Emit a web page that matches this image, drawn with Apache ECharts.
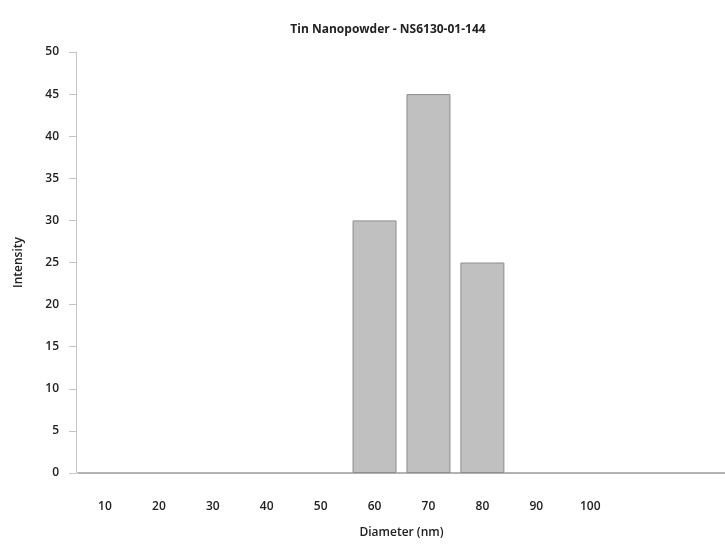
<!DOCTYPE html>
<html>
<head>
<meta charset="utf-8">
<script src="https://cdn.jsdelivr.net/npm/echarts@6/dist/echarts.min.js"></script>
<style>
  html, body { margin: 0; padding: 0; background: #fff; }
  #chart { width: 725px; height: 544px; }
</style>
</head>
<body>
<div id="chart"></div>
<script>
// diameter classes (nm); the last two bands are empty on the original axis
var diameters = ['10', '20', '30', '40', '50', '60', '70', '80', '90', '100', '', ''];
var intensity = [0, 0, 0, 0, 0, 30, 45, 25, 0, 0, 0, 0];
var yTicks = [0, 50, 5];

var myChart = echarts.init(document.getElementById('chart'));
var font = '"Open Sans", "Liberation Sans", sans-serif';

// empty classes get no outline, so no flat line is drawn on the axis
var barData = intensity.map(function (v) {
  return v === 0 ? { value: v, itemStyle: { borderWidth: 0, opacity: 0 } } : v;
});

var option = {
  backgroundColor: '#fff',
  animation: false,
  title: {
    text: 'Tin Nanopowder - NS6130-01-144',
    left: 383,
    textAlign: 'center',
    top: 19,
    textStyle: { fontFamily: font, fontSize: 12, fontWeight: 'bold', color: '#222' }
  },
  grid: { left: 78, right: 0, top: 52, bottom: 66 },
  xAxis: {
    type: 'category',
    data: diameters,
    name: 'Diameter (nm)',
    nameLocation: 'middle',
    nameGap: 54,
    nameTextStyle: { fontFamily: font, fontSize: 12, fontWeight: 600, color: '#222' },
    axisLine: { lineStyle: { color: '#9a9a9a', width: 1.5 } },
    axisTick: { show: false },
    axisLabel: { margin: 28, fontFamily: font, fontSize: 12, fontWeight: 600, color: '#222' }
  },
  yAxis: {
    type: 'value',
    offset: 2,
    min: yTicks[0],
    max: yTicks[1],
    interval: yTicks[2],
    name: 'Intensity',
    nameLocation: 'middle',
    nameGap: 51,
    nameRotate: 90,
    nameTextStyle: { fontFamily: font, fontSize: 12, fontWeight: 600, color: '#222' },
    axisLine: { show: true, lineStyle: { color: '#c4c4c4' } },
    axisTick: { show: true, length: 7, lineStyle: { color: '#c4c4c4' } },
    splitLine: { show: false },
    axisLabel: { margin: 17, fontFamily: font, fontSize: 12, fontWeight: 600, color: '#222' }
  },
  series: [
    {
      type: 'bar',
      data: barData,
      barWidth: 44,
      itemStyle: { color: '#c0c0c0', borderColor: '#8e8e8e', borderWidth: 1 }
    }
  ]
};
myChart.setOption(option);
</script>
</body>
</html>
